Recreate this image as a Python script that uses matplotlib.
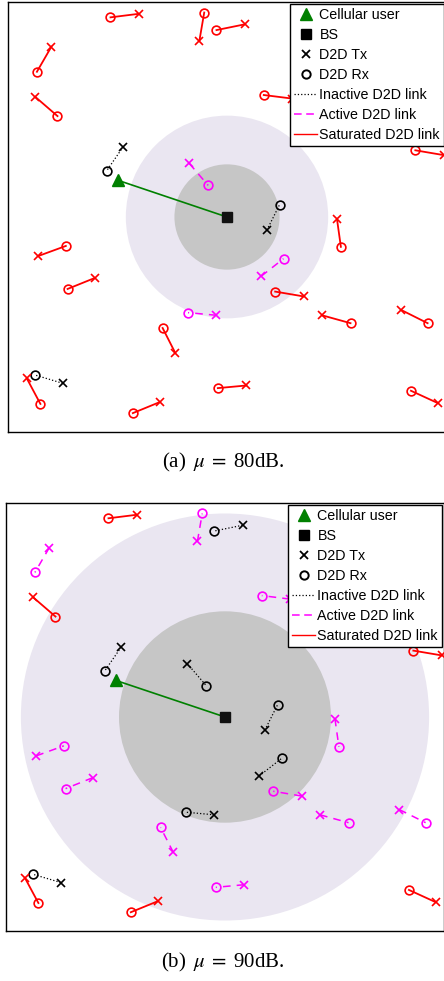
import numpy as np
import matplotlib.pyplot as plt
from matplotlib.lines import Line2D
from matplotlib.patches import Circle

plt.rcParams["font.family"] = ["Liberation Sans", "DejaVu Sans"]
plt.rcParams["mathtext.fontset"] = "stix"

# Node positions in metres, BS at the origin
bs = (0, 0)
cu = (-250, 84)

tx_x = [-202, -63, 40, -401, -438, 148, 495, -237, -86, 91, 251, -431,
        -302, 78, 175, -24, 217, 398, -118, -375, -457, 44, -154, 481]
tx_y = [463, 402, 439, 388, 274, 270, 141, 160, 122, -30, -4, -89,
        -139, -135, -181, -224, -224, -212, -310, -379, -368, -384, -422, -424]
rx_x = [-266, -52, -24, -434, -387, 84, 430, -275, -43, 120, 260, -368,
        -364, 129, 110, -89, 282, 458, -147, -439, -426, -21, -215, 420]
rx_y = [455, 466, 426, 331, 230, 278, 152, 105, 72, 28, -68, -66,
        -164, -95, -170, -218, -242, -242, -253, -360, -426, -390, -447, -396]

# Link state per pair: I = inactive, A = active, S = saturated
state_a = "SSSSSSSIAISSSASASSSISSSS"
state_b = "SAIASASIIIAAAIAIAAAISASS"

# Inner / outer region radii (m)
r_inner = [120, 242]
r_outer = [231, 466]
captions = [r"(a)$\;\;\mu\;=\;$80dB.", r"(b)$\;\;\mu\;=\;$90dB."]

styles = {
    "I": dict(color="black", ls=":", lw=0.9),
    "A": dict(color="magenta", ls=(0, (5, 4)), lw=1.1),
    "S": dict(color="red", ls="-", lw=1.3),
}

W, H = 444, 981
fig = plt.figure(figsize=(W / 100, H / 100), dpi=100)

panels = [
    (8, 2, 438, 430, state_a, 467),
    (6, 503, 438, 428, state_b, 967),
]

for k, (left, top, w, h, states, cap_y) in enumerate(panels):
    ax = fig.add_axes([left / W, 1 - (top + h) / H, w / W, h / H])
    ax.set_xlim(-500, 500)
    ax.set_ylim(-490, 490)
    ax.set_xticks([])
    ax.set_yticks([])
    for sp in ax.spines.values():
        sp.set_linewidth(1.0)

    ax.add_patch(Circle(bs, r_outer[k], facecolor="#EAE6F1", edgecolor="none", zorder=0))
    ax.add_patch(Circle(bs, r_inner[k], facecolor="#C6C6C6", edgecolor="none", zorder=1))

    # cellular uplink
    ax.plot([cu[0], bs[0]], [cu[1], bs[1]], color="green", lw=1.2, zorder=3)
    ax.plot(*cu, marker="^", color="green", ms=9, ls="none", zorder=4)
    ax.plot(*bs, marker="s", color="#111111", ms=7, ls="none", zorder=4)

    for i, s in enumerate(states):
        st = styles[s]
        ax.plot([tx_x[i], rx_x[i]], [tx_y[i], rx_y[i]], zorder=3, **st)
        ax.plot(tx_x[i], tx_y[i], marker="x", color=st["color"], ms=6,
                mew=1.2, ls="none", zorder=4)
        ax.plot(rx_x[i], rx_y[i], marker="o", mfc="none", mec=st["color"],
                ms=6.3, mew=1.2, ls="none", zorder=4)

    handles = [
        Line2D([], [], marker="^", color="green", ls="none", ms=9),
        Line2D([], [], marker="s", color="black", ls="none", ms=7.5),
        Line2D([], [], marker="x", color="black", ls="none", ms=5.5, mew=1.3),
        Line2D([], [], marker="o", mfc="none", mec="black", ls="none", ms=6, mew=1.4),
        Line2D([], [], color="black", ls=":", lw=0.9),
        Line2D([], [], color="magenta", ls=(0, (5, 3)), lw=1.1),
        Line2D([], [], color="red", ls="-", lw=1.0),
    ]
    labels = ["Cellular user", "BS", "D2D Tx", "D2D Rx",
              "Inactive D2D link", "Active D2D link", "Saturated D2D link"]
    leg = ax.legend(handles, labels, loc="upper right", fontsize=10.3,
                    fancybox=False, framealpha=1, edgecolor="black",
                    borderaxespad=0.12, handlelength=1.6, handletextpad=0.15,
                    labelspacing=0.42, borderpad=0.3)
    leg.get_frame().set_linewidth(1.0)
    leg.set_zorder(10)

    fig.text(223 / W, 1 - cap_y / H, captions[k], ha="center", va="baseline",
             fontsize=15, family=["Liberation Serif", "DejaVu Serif"])

fig.savefig("out.png", dpi=100)
